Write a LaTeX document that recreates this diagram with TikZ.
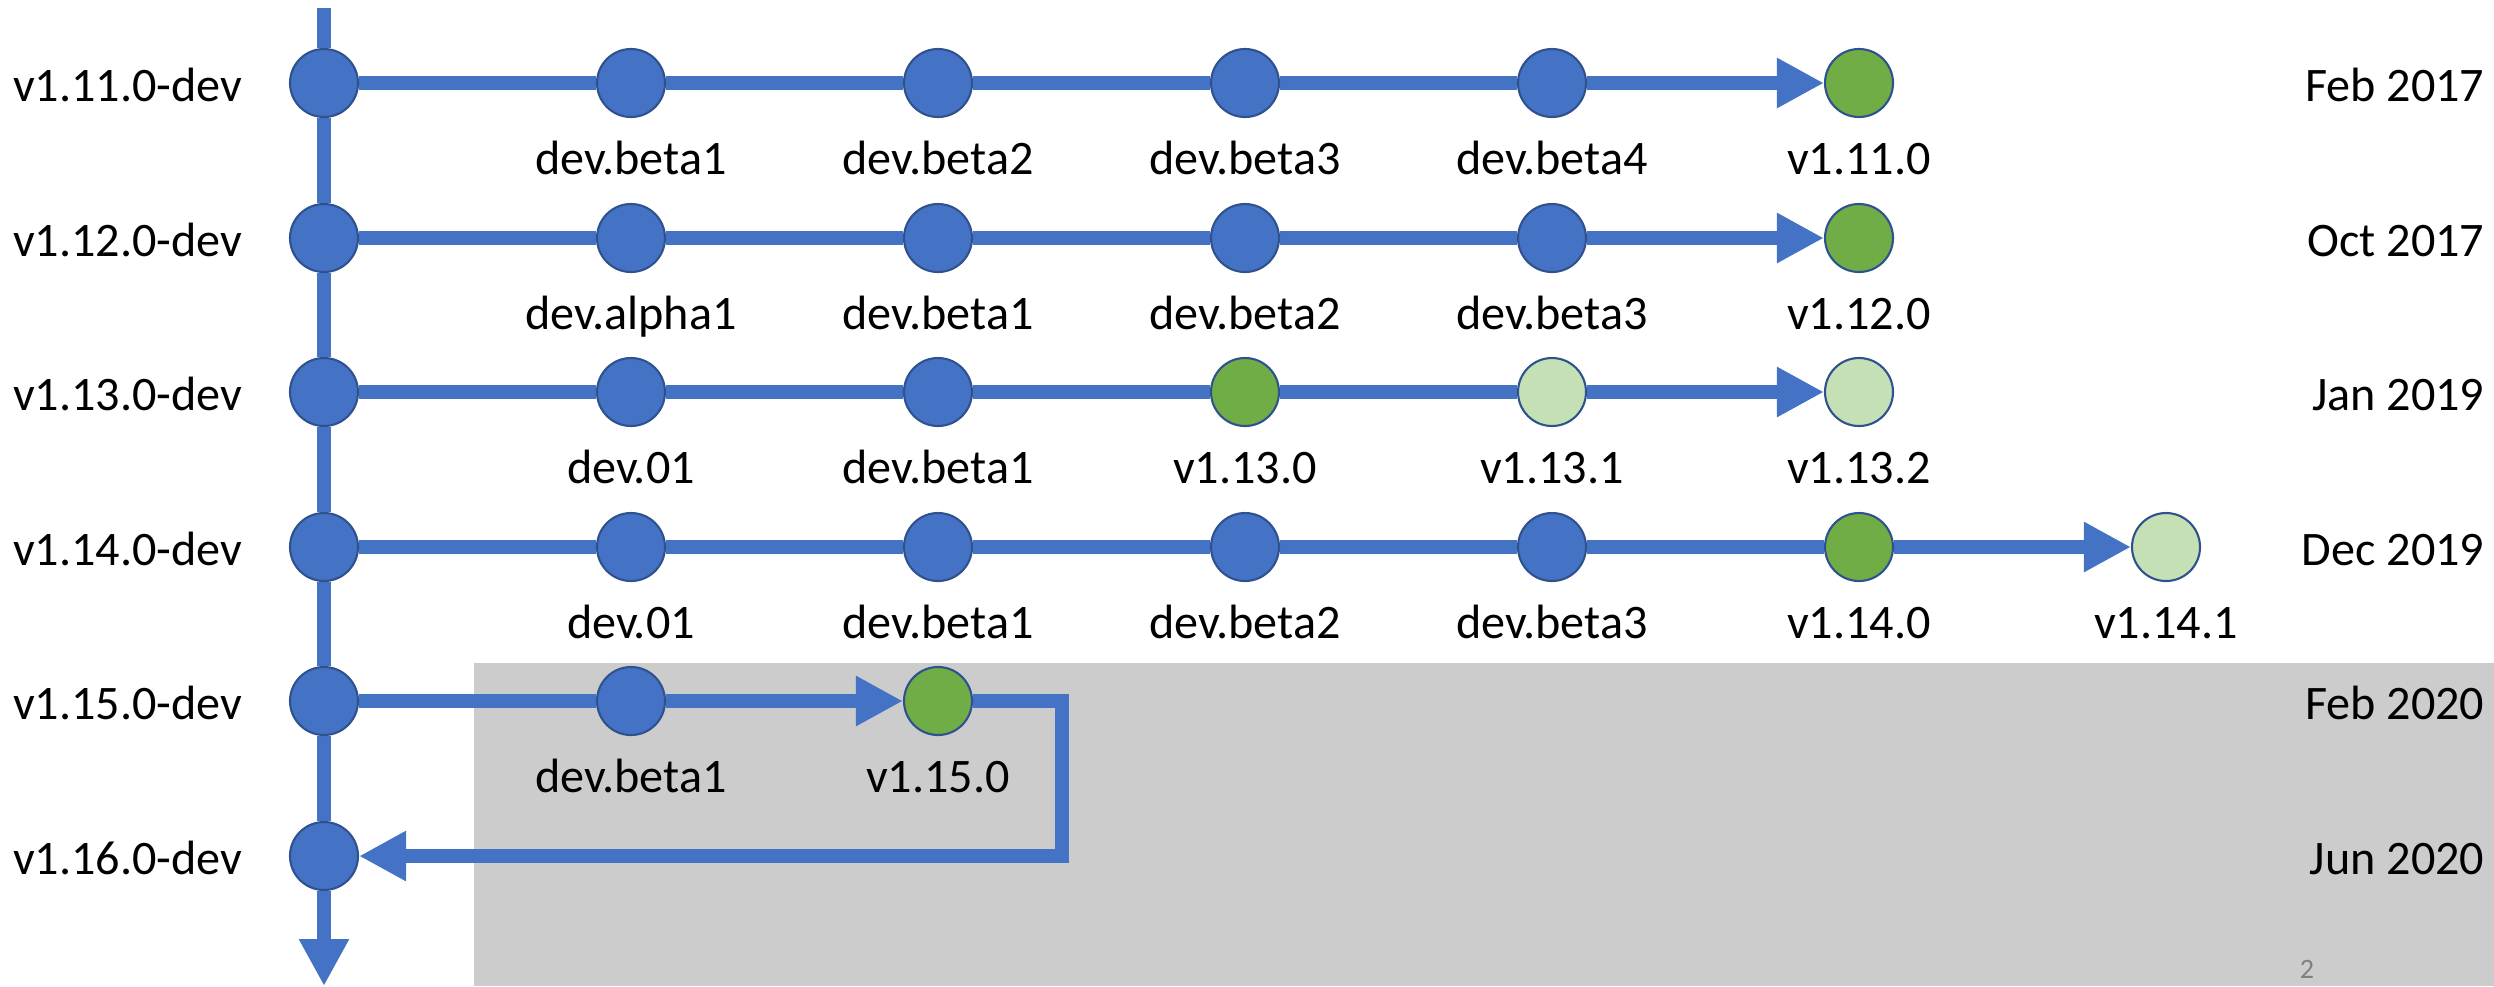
\documentclass[tikz,border=0pt]{standalone}
\usepackage{fontspec}
\setmainfont{Carlito}
\usetikzlibrary{arrows.meta,positioning,backgrounds}
\definecolor{gitblue}{HTML}{4472C4}
\definecolor{gitedge}{HTML}{2F528F}
\definecolor{relgreen}{HTML}{70AD47}
\definecolor{patchgreen}{HTML}{C5E0B4}
\definecolor{greybox}{HTML}{CCCCCC}
\tikzset{
  commit/.style={circle, draw=gitedge, line width=0.6pt, fill=gitblue, minimum size=0.68cm, inner sep=0pt},
  release/.style={commit, fill=relgreen},
  patch/.style={commit, fill=patchgreen},
  branch/.style={draw=gitblue, line width=0.14cm},
  tip/.style={-{Triangle[length=0.47cm,width=0.47cm]}},
  tag/.style={font=\fontsize{13.7}{16}\selectfont, inner sep=0pt, text height=0.3cm, text depth=0.1cm},
  side/.style={font=\fontsize{13.7}{16}\selectfont, inner sep=0pt, anchor=base east}
}

\begin{document}
\begin{tikzpicture}[label distance=0.26cm]
\useasboundingbox (0,0) rectangle (24.94,-9.86);

% commits, v1.11
\node[commit] (a0) at (3.24,-0.83) {};
\node[commit, label={[tag]below:dev.beta1}] (a1) at (6.31,-0.83) {};
\node[commit, label={[tag]below:dev.beta2}] (a2) at (9.38,-0.83) {};
\node[commit, label={[tag]below:dev.beta3}] (a3) at (12.45,-0.83) {};
\node[commit, label={[tag]below:dev.beta4}] (a4) at (15.52,-0.83) {};
\node[release, label={[tag]below:v1.11.0}] (a5) at (18.59,-0.83) {};

% commits, v1.12
\node[commit] (b0) at (3.24,-2.38) {};
\node[commit, label={[tag]below:dev.alpha1}] (b1) at (6.31,-2.38) {};
\node[commit, label={[tag]below:dev.beta1}] (b2) at (9.38,-2.38) {};
\node[commit, label={[tag]below:dev.beta2}] (b3) at (12.45,-2.38) {};
\node[commit, label={[tag]below:dev.beta3}] (b4) at (15.52,-2.38) {};
\node[release, label={[tag]below:v1.12.0}] (b5) at (18.59,-2.38) {};

% commits, v1.13
\node[commit] (c0) at (3.24,-3.92) {};
\node[commit, label={[tag]below:dev.01}] (c1) at (6.31,-3.92) {};
\node[commit, label={[tag]below:dev.beta1}] (c2) at (9.38,-3.92) {};
\node[release, label={[tag]below:v1.13.0}] (c3) at (12.45,-3.92) {};
\node[patch, label={[tag]below:v1.13.1}] (c4) at (15.52,-3.92) {};
\node[patch, label={[tag]below:v1.13.2}] (c5) at (18.59,-3.92) {};

% commits, v1.14
\node[commit] (d0) at (3.24,-5.47) {};
\node[commit, label={[tag]below:dev.01}] (d1) at (6.31,-5.47) {};
\node[commit, label={[tag]below:dev.beta1}] (d2) at (9.38,-5.47) {};
\node[commit, label={[tag]below:dev.beta2}] (d3) at (12.45,-5.47) {};
\node[commit, label={[tag]below:dev.beta3}] (d4) at (15.52,-5.47) {};
\node[release, label={[tag]below:v1.14.0}] (d5) at (18.59,-5.47) {};
\node[patch, label={[tag]below:v1.14.1}] (d6) at (21.66,-5.47) {};

% commits, v1.15 and v1.16
\node[commit] (e0) at (3.24,-7.01) {};
\node[commit, label={[tag]below:dev.beta1}] (e1) at (6.31,-7.01) {};
\node[release, label={[tag]below:v1.15.0}] (e2) at (9.38,-7.01) {};
\node[commit] (f0) at (3.24,-8.56) {};

% branch names
\node[side] (la) at (2.43,-1.01) {v1.11.0-dev};
\node[side] (lb) at (2.43,-2.56) {v1.12.0-dev};
\node[side] (lc) at (2.43,-4.10) {v1.13.0-dev};
\node[side] (ld) at (2.43,-5.65) {v1.14.0-dev};
\node[side] (le) at (2.43,-7.19) {v1.15.0-dev};
\node[side] (lf) at (2.43,-8.74) {v1.16.0-dev};

% dates
\node[side] (da) at (24.85,-1.01) {Feb 2017};
\node[side] (db) at (24.85,-2.56) {Oct 2017};
\node[side] (dc) at (24.85,-4.10) {Jan 2019};
\node[side] (dd) at (24.85,-5.65) {Dec 2019};
\node[side] (de) at (24.85,-7.19) {Feb 2020};
\node[side] (df) at (24.85,-8.74) {Jun 2020};

\node[font=\fontsize{8}{9}\selectfont, text=gray, inner sep=0pt, anchor=north] (pagenum) at (23.07,-9.60) {2};

\coordinate (trunktop) at (3.24,-0.08);
\coordinate (trunkend) at (3.24,-9.86);
\coordinate (bend) at (10.62,-7.01);

\begin{scope}[on background layer]
\fill[greybox] (4.74,-6.63) rectangle (24.94,-9.86);

% main line
\draw[branch, tip] (trunktop) -- (a0) -- (b0) -- (c0) -- (d0) -- (e0) -- (f0) -- (trunkend);

% release branches
\draw[branch] (a0) -- (a1) -- (a2) -- (a3) -- (a4);
\draw[branch, tip] (a4) -- (a5);
\draw[branch] (b0) -- (b1) -- (b2) -- (b3) -- (b4);
\draw[branch, tip] (b4) -- (b5);
\draw[branch] (c0) -- (c1) -- (c2) -- (c3) -- (c4);
\draw[branch, tip] (c4) -- (c5);
\draw[branch] (d0) -- (d1) -- (d2) -- (d3) -- (d4) -- (d5);
\draw[branch, tip] (d5) -- (d6);
\draw[branch] (e0) -- (e1);
\draw[branch, tip] (e1) -- (e2);
\draw[branch, tip, line join=miter] (e2) -- (bend) |- (f0);
\end{scope}

\end{tikzpicture}
\end{document}
